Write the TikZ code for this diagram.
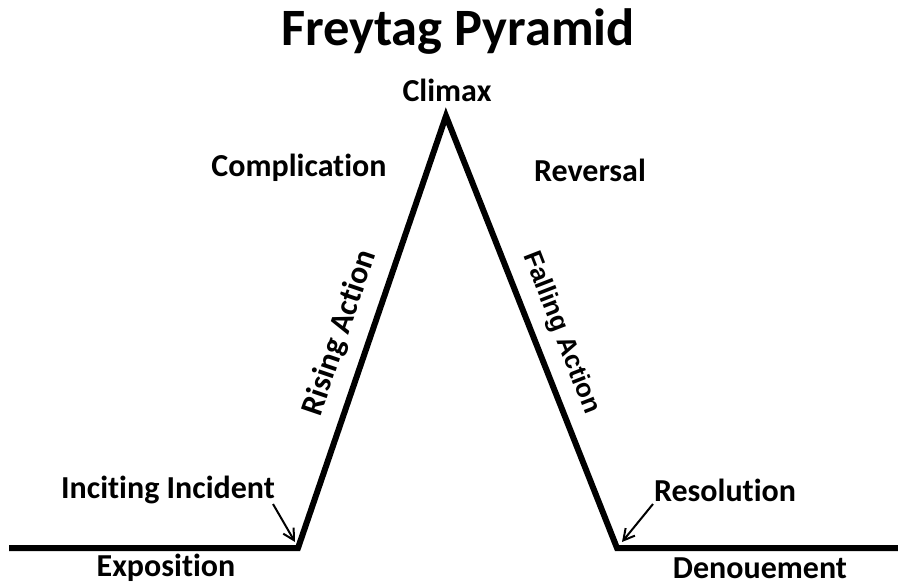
\documentclass[tikz,border=0pt]{standalone}
\usepackage{fontspec}
\setmainfont[Ligatures=NoCommon]{Carlito}
\newfontfamily\arialish{Liberation Sans}
\usetikzlibrary{arrows.meta}
\begin{document}
\begin{tikzpicture}[x=1pt,y=-1pt,
  lbl/.style={font=\bfseries\fontsize{32}{32}\selectfont, inner sep=0pt},
  ttl/.style={font=\bfseries\fontsize{52.5}{52.5}\selectfont, inner sep=0pt},
  plot/.style={line width=6pt, line join=miter},
  pointer/.style={line width=2pt, -{Straight Barb[length=11pt,width=12pt,line width=2pt]}}]
\useasboundingbox (0,0) rectangle (898,584);
\coordinate (L) at (9,548);
\coordinate (A) at (298,548);
\coordinate (T) at (446,116);
\coordinate (B) at (617,548);
\coordinate (R) at (898,548);
\draw[plot] (L) -- (A) -- (T) -- (B) -- (R);
\node[ttl] (title) at (458,32) {Freytag Pyramid};
\node[lbl] (climax) at (447,90) {Climax};
\node[lbl] (compl) at (299,168) {Complication};
\node[lbl] (rev) at (590,170) {Reversal};
\node[lbl, rotate=71.2] (rise) at (340,333) {Rising Action};
\node[lbl, font=\arialish\bfseries\fontsize{26}{26}\selectfont, rotate=-68.8] (fall) at (561,333) {Falling Action};
\node[lbl] (inc) at (168,490) {Inciting Incident};
\node[lbl] (res) at (725,490) {Resolution};
\node[lbl] (expo) at (166,568) {Exposition};
\node[lbl] (deno) at (760,568) {Denouement};
\coordinate (i1) at (273,504);
\coordinate (i2) at (295,542);
\coordinate (r1) at (653,504);
\coordinate (r2) at (622,542);
\draw[pointer] (i1) -- (i2);
\draw[pointer] (r1) -- (r2);
\end{tikzpicture}
\end{document}
